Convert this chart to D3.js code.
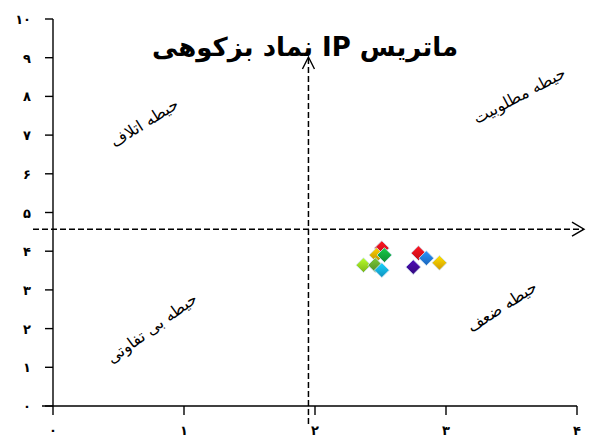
<!DOCTYPE html>
<head>
  <meta charset="utf-8">
  <script src="https://d3js.org/d3.v7.min.js"></script>
  <style>
    body { margin: 0; background: #fff; }
    text { font-family: 'DejaVu Sans'; fill: #000; }
    .title { font-size: 26px; font-weight: bold; }
    .zone { font-size: 16px; }
    .tick-label { font-size: 13px; font-weight: bold; }
    .guide { stroke: #000; stroke-width: 1.5; stroke-dasharray: 6,3; fill: none; }
    .axis-line { stroke: #000; stroke-width: 1.4; fill: none; }
  </style>
</head>
<body>
  <script>
    // data
    var yTicks = [0, 1, 2, 3, 4, 5, 6, 7, 8, 9, 10];
    var xTicks = [0, 1, 2, 3, 4];
    var pointX = [2.51, 2.47, 2.53, 2.37, 2.46, 2.51, 2.79, 2.75, 2.85, 2.95];
    var pointY = [4.08, 3.90, 3.90, 3.64, 3.64, 3.51, 3.95, 3.59, 3.82, 3.70];
    var pointColor = ["#e0101a", "#d9a400", "#12a03a", "#8fd11e", "#5e9f2a", "#12a6d8",
                      "#e0101a", "#3c0a90", "#1f74d6", "#f0b000"];
    var crossX = 1.95, crossY = 4.57;
    var title = "ماتریس IP نماد بزکوهی";
    var zones = [
      { label: "حیطه اتلاف", x: 0.72, y: 7.2, angle: -32 },
      { label: "حیطه مطلوبیت", x: 3.58, y: 7.9, angle: -28 },
      { label: "حیطه بی تفاوتی", x: 0.78, y: 1.9, angle: -36 },
      { label: "حیطه ضعف", x: 3.45, y: 2.45, angle: -33 }
    ];

    var fa = function(n) {
      return String(n).replace(/\d/g, function(c) { return "۰۱۲۳۴۵۶۷۸۹"[+c]; });
    };

    var width = 590, height = 437;

    var svg = d3.select("body").append("svg")
        .attr("width", width)
        .attr("height", height);

    var x = d3.scaleLinear().domain([0, 4]).range([53, 577]);
    var y = d3.scaleLinear().domain([0, 10]).range([406, 19]);

    // gradients for the diamond markers
    var defs = svg.append("defs");
    pointColor.forEach(function(c, i) {
      var g = defs.append("linearGradient")
          .attr("id", "g" + i)
          .attr("x1", "0").attr("y1", "0").attr("x2", "1").attr("y2", "1");
      g.append("stop").attr("offset", "0%").attr("stop-color", d3.color(c).brighter(0.7));
      g.append("stop").attr("offset", "100%").attr("stop-color", d3.color(c).darker(0.4));
    });

    // y axis
    var yAxis = svg.append("g").attr("transform", "translate(" + x(0) + ",0)");
    yAxis.append("line").attr("class", "axis-line")
        .attr("y1", y(10)).attr("y2", y(0));
    yAxis.selectAll(".yt").data(yTicks).enter().append("line")
        .attr("class", "axis-line")
        .attr("x1", -8).attr("x2", 0)
        .attr("y1", function(d) { return y(d); })
        .attr("y2", function(d) { return y(d); });
    yAxis.selectAll(".yl").data(yTicks).enter().append("text")
        .attr("class", "tick-label")
        .attr("text-anchor", "end")
        .attr("x", -22)
        .attr("y", function(d) { return y(d) + 5; })
        .text(function(d) { return fa(d); });

    // x axis
    var xAxis = svg.append("g").attr("transform", "translate(0," + y(0) + ")");
    xAxis.append("line").attr("class", "axis-line")
        .attr("x1", x(0) - 11).attr("x2", x(4));
    xAxis.selectAll(".xt").data(xTicks).enter().append("line")
        .attr("class", "axis-line")
        .attr("x1", function(d) { return x(d); })
        .attr("x2", function(d) { return x(d); })
        .attr("y1", 0).attr("y2", 9);
    xAxis.selectAll(".xl").data(xTicks).enter().append("text")
        .attr("class", "tick-label")
        .attr("text-anchor", "middle")
        .attr("x", function(d) { return x(d); })
        .attr("y", 29)
        .text(function(d) { return fa(d); });

    // dashed guide lines with arrow heads
    svg.append("line").attr("class", "guide")
        .attr("x1", 33).attr("x2", 583)
        .attr("y1", y(crossY)).attr("y2", y(crossY));
    svg.append("path").attr("class", "axis-line")
        .attr("d", "M572," + (y(crossY) - 7) + "L584," + y(crossY) + "L572," + (y(crossY) + 7));

    svg.append("line").attr("class", "guide")
        .attr("x1", x(crossX)).attr("x2", x(crossX))
        .attr("y1", 424).attr("y2", 58);
    svg.append("path").attr("class", "axis-line")
        .attr("d", "M" + (x(crossX) - 6) + ",69L" + x(crossX) + ",57L" + (x(crossX) + 6) + ",69");

    // title
    svg.append("text")
        .attr("class", "title")
        .attr("direction", "rtl")
        .attr("text-anchor", "middle")
        .attr("x", 305)
        .attr("y", 56)
        .text(title);

    // quadrant labels
    svg.selectAll(".zone").data(zones).enter().append("text")
        .attr("class", "zone")
        .attr("direction", "rtl")
        .attr("text-anchor", "middle")
        .attr("transform", function(d) {
          return "translate(" + x(d.x) + "," + y(d.y) + ") rotate(" + d.angle + ")";
        })
        .text(function(d) { return d.label; });

    // points
    svg.selectAll(".pt").data(pointX).enter().append("path")
        .attr("class", "pt")
        .attr("d", d3.symbol(d3.symbolSquare, 110))
        .attr("transform", function(d, i) {
          return "translate(" + x(d) + "," + y(pointY[i]) + ") rotate(45)";
        })
        .attr("fill", function(d, i) { return "url(#g" + i + ")"; })
        .attr("stroke", "#cfe3f2")
        .attr("stroke-width", 0.8);
  </script>
</body>
